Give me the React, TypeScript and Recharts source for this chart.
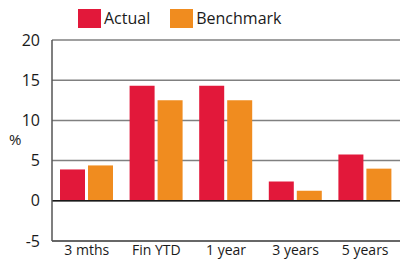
import { BarChart, Bar, XAxis, YAxis, CartesianGrid, ReferenceLine } from 'recharts';

const periods = ['3 mths', 'Fin YTD', '1 year', '3 years', '5 years'];
const actual = [3.9, 14.3, 14.3, 2.4, 5.75];
const benchmark = [4.4, 12.5, 12.5, 1.25, 4.0];
const yTicks = [-5, 0, 5, 10, 15, 20];

const series = [
  { key: 'actual', name: 'Actual', color: '#e2183a' },
  { key: 'benchmark', name: 'Benchmark', color: '#f08c1f' },
];

const chartData = periods.map((p, i) => ({ period: p, actual: actual[i], benchmark: benchmark[i] }));

const FONT = '"Open Sans", "Noto Sans", sans-serif';

export default function App() {
  return (
    <div style={{ position: 'absolute', left: 0, top: 0, width: 400, height: 261, background: '#fff', fontFamily: FONT }}>
      {/* legend */}
      <div style={{ position: 'absolute', left: 78, top: 9, display: 'flex', alignItems: 'center', fontSize: 16, color: '#1a1a1a' }}>
        {series.map((s, i) => (
          <div key={s.key} style={{ display: 'flex', alignItems: 'center', marginRight: i === 0 ? 20 : 0 }}>
            <div style={{ width: 23, height: 19, background: s.color, marginRight: 3 }} />
            <span style={{ lineHeight: '19px' }}>{s.name}</span>
          </div>
        ))}
      </div>
      <div style={{ position: 'absolute', left: 9, top: 129, fontSize: 15, color: '#1a1a1a' }}>%</div>
      <BarChart
        width={400}
        height={261}
        data={chartData}
        margin={{ top: 40, right: 0, bottom: 0, left: 0 }}
        barSize={25}
        barGap={3}
      >
        <CartesianGrid vertical={false} stroke="#808080" strokeWidth={1.5} />
        <XAxis
          dataKey="period"
          height={20}
          axisLine={{ stroke: '#555', strokeWidth: 1.5 }}
          tickLine={false}
          tick={{ fontSize: 14, fill: '#1a1a1a', fontFamily: FONT, dy: -2 }}
          tickMargin={0}
        />
        <YAxis
          width={52}
          domain={[-5, 20]}
          ticks={yTicks}
          interval={0}
          axisLine={{ stroke: '#555', strokeWidth: 1.5 }}
          tickLine={false}
          tick={{ fontSize: 16, fill: '#1a1a1a', fontFamily: FONT }}
          tickMargin={6}
        />
        <ReferenceLine y={0} stroke="#1a1a1a" strokeWidth={1.5} />
        {series.map((s) => (
          <Bar key={s.key} dataKey={s.key} name={s.name} fill={s.color} isAnimationActive={false} />
        ))}
      </BarChart>
    </div>
  );
}
